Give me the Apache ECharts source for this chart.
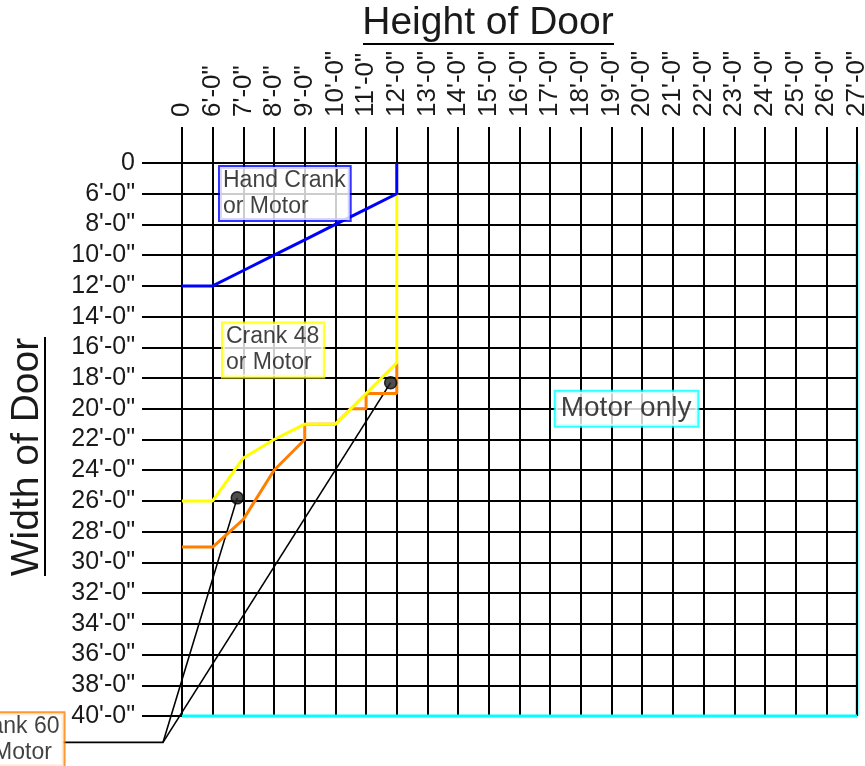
<!DOCTYPE html>
<html>
<head>
<meta charset="utf-8">
<script src="https://cdn.jsdelivr.net/npm/echarts@6/dist/echarts.min.js"></script>
<style>
html,body{margin:0;padding:0;background:#fff;}
#chart{width:865px;height:766px;}
</style>
</head>
<body>
<div id="chart"></div>
<script>
// Tick labels (index positions along each axis)
const xLabels = ['0', "6'-0\"", "7'-0\"", "8'-0\"", "9'-0\"", "10'-0\"", "11'-0\"", "12'-0\"", "13'-0\"", "14'-0\"", "15'-0\"", "16'-0\"", "17'-0\"", "18'-0\"", "19'-0\"", "20'-0\"", "21'-0\"", "22'-0\"", "23'-0\"", "24'-0\"", "25'-0\"", "26'-0\"", "27'-0\""];
const yLabels = ['0', "6'-0\"", "8'-0\"", "10'-0\"", "12'-0\"", "14'-0\"", "16'-0\"", "18'-0\"", "20'-0\"", "22'-0\"", "24'-0\"", "26'-0\"", "28'-0\"", "30'-0\"", "32'-0\"", "34'-0\"", "36'-0\"", "38'-0\"", "40'-0\""];

// Boundary curves, as [height index, width index]
const handCrank = [[0,4],[1,4],[2,3.5],[3,3],[4,2.5],[5,2],[6,1.5],[7,1],[7,0]];
const crank48 = [[0,11],[1,11],[2,9.6],[3,9],[4,8.5],[5,8.5],[7,6.5],[7,1]];
const crank60 = [[0,12.5],[1,12.5],[2,11.6],[3,10],[4,9],[4,8.5],[5,8.5],[5.5,8],[6,8],[6,7.5],[7,7.5],[7,6.5]];
const motorOnlyBottom = [[0,18],[22,18]];
const motorOnlyRight = [[22,18],[22,0]];
const dots = [[1.8,10.9],[6.8,7.15]];
const connectorA = [[-3.88,18.86],[-0.62,18.86],[1.8,10.9]];
const connectorB = [[-0.62,18.86],[6.8,7.15]];

// Region captions (anchored at box left-middle, in axis index units)
const captionText = ['Hand Crank\nor Motor', 'Crank 48\nor Motor', 'Motor only', 'Crank 60\nor Motor'];
const captionAnchor = [[1.238,0.99],[1.335,6.09],[12.18,8.0],[-7.13,18.77]];

const FONT = "'Liberation Sans', Arial, Helvetica, sans-serif";
const BLUE = '#0000ff', YELLOW = '#ffff00', ORANGE = '#ff7f00', CYAN = '#00ffff';
const captionColors = [BLUE, YELLOW, CYAN, ORANGE];
const captionSize = [23, 23, 28, 23];

const chart = echarts.init(document.getElementById('chart'), null, {renderer:'canvas'});

function lineSeries(data, color, width, z) {
  return {type:'line', data:data, showSymbol:false, symbol:'none', clip:false, z:z || 3,
    lineStyle:{color:color, width:width}, silent:true, animation:false};
}
function polySeries(points, color, width, z) {
  return {type:'custom', clip:false, z:z, silent:true, data:[0],
    renderItem:function(params, api){
      return {type:'polyline', shape:{points:points.map(function(p){return api.coord(p);})},
        style:{stroke:color, lineWidth:width, fill:null}};
    }};
}

const option = {
  animation:false,
  backgroundColor:'#fff',
  grid:{left:182, right:8, top:163, bottom:50, outerBoundsMode:'none', containLabel:false},
  xAxis:{type:'value', position:'top', min:0, max:22, interval:1,
    axisLine:{show:true, onZero:false, lineStyle:{color:'#000', width:2}},
    axisTick:{show:true, length:36, lineStyle:{color:'#000', width:2}},
    axisLabel:{rotate:-90, margin:46, fontSize:26, color:'#1a1a1a', fontFamily:FONT,
      formatter:function(v){return xLabels[Math.round(v)] || '';}},
    splitLine:{show:true, lineStyle:{color:'#000', width:2}}},
  yAxis:{type:'value', inverse:true, min:0, max:18, interval:1,
    axisLine:{show:true, onZero:false, lineStyle:{color:'#000', width:2}},
    axisTick:{show:true, length:40, lineStyle:{color:'#000', width:2}},
    axisLabel:{margin:47, fontSize:25, color:'#1a1a1a', fontFamily:FONT,
      formatter:function(v){return yLabels[Math.round(v)] || '';}},
    splitLine:{show:true, lineStyle:{color:'#000', width:2}}},
  graphic:[
    {type:'text', x:488, y:23, z:10, style:{text:'Height of Door', fill:'#1a1a1a', font:'39px ' + FONT, align:'center', verticalAlign:'middle'}},
    {type:'line', z:10, shape:{x1:363, y1:44, x2:614, y2:44}, style:{stroke:'#000', lineWidth:2}},
    {type:'text', x:27, y:457, rotation:Math.PI/2, z:10, style:{text:'Width of Door', fill:'#1a1a1a', font:'39px ' + FONT, align:'center', verticalAlign:'middle'}},
    {type:'line', z:10, shape:{x1:45, y1:337, x2:45, y2:576}, style:{stroke:'#000', lineWidth:2}}
  ],
  series:[
    lineSeries(motorOnlyRight, CYAN, 3, -1),
    polySeries(connectorA, '#000', 1.6, 3),
    polySeries(connectorB, '#000', 1.6, 3),
    lineSeries(crank60, ORANGE, 3, 4),
    lineSeries(crank48, YELLOW, 3, 5),
    lineSeries(handCrank, BLUE, 3, 6),
    lineSeries(motorOnlyBottom, CYAN, 3, 6),
    {type:'scatter', data:dots, symbolSize:12, clip:false, z:7,
      itemStyle:{color:'#222', borderColor:'#000', borderWidth:1.5}},
    {type:'scatter', clip:false, z:8, symbolSize:0,
      data:captionText.map(function(t, i){
        return {value:captionAnchor[i],
          label:{show:true, position:'inside', align:'left', verticalAlign:'middle',
            formatter:t, fontFamily:FONT, fontSize:captionSize[i], lineHeight:captionSize[i] === 28 ? 32 : 26,
            color:'#111', backgroundColor:'#fff', borderColor:captionColors[i], borderWidth:2,
            padding:captionSize[i] === 28 ? [1,6,1,5] : [1,4,0,3]}};
      })}
  ]
};
chart.setOption(option);
</script>
</body>
</html>
